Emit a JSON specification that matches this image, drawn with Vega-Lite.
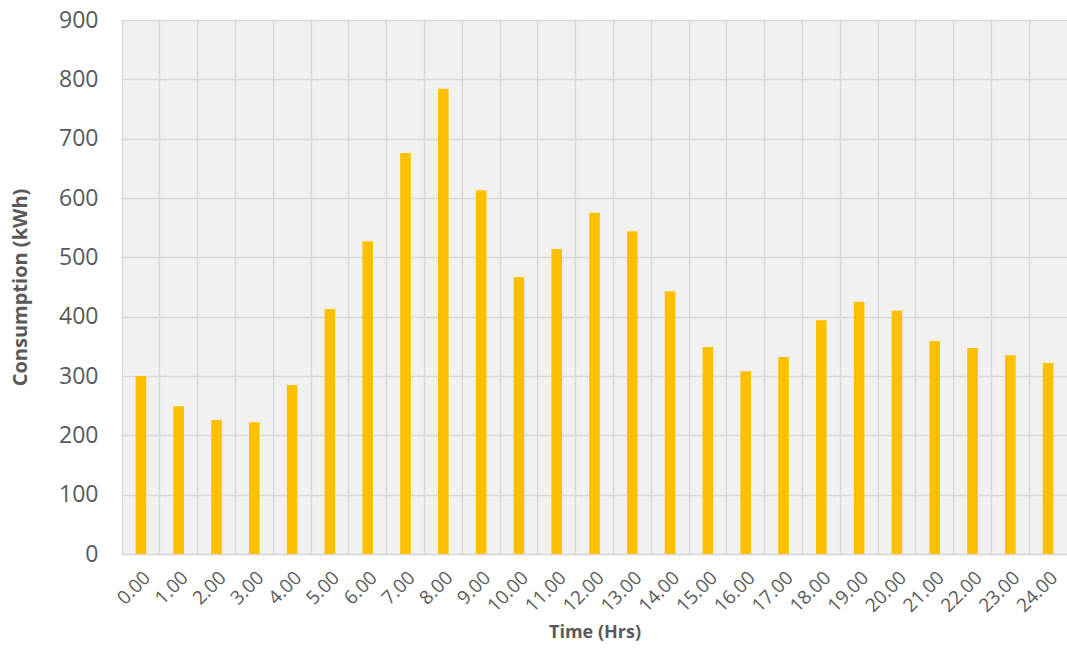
{
  "$schema": "https://vega.github.io/schema/vega-lite/v6.json",
  "width": 945,
  "height": 534,
  "autosize": "none",
  "padding": {"left": 122, "top": 20, "right": 0, "bottom": 94},
  "background": "white",
  "config": {
    "view": {"fill": "#f1f1f1", "stroke": null},
    "font": "Open Sans"
  },
  "data": {
    "values": [
      {"time": "0.00", "kwh": 300},
      {"time": "1.00", "kwh": 249},
      {"time": "2.00", "kwh": 226},
      {"time": "3.00", "kwh": 222},
      {"time": "4.00", "kwh": 285},
      {"time": "5.00", "kwh": 413},
      {"time": "6.00", "kwh": 527},
      {"time": "7.00", "kwh": 676},
      {"time": "8.00", "kwh": 784},
      {"time": "9.00", "kwh": 613},
      {"time": "10.00", "kwh": 467},
      {"time": "11.00", "kwh": 514},
      {"time": "12.00", "kwh": 575},
      {"time": "13.00", "kwh": 544},
      {"time": "14.00", "kwh": 443},
      {"time": "15.00", "kwh": 349},
      {"time": "16.00", "kwh": 308},
      {"time": "17.00", "kwh": 332},
      {"time": "18.00", "kwh": 394},
      {"time": "19.00", "kwh": 425},
      {"time": "20.00", "kwh": 410},
      {"time": "21.00", "kwh": 359},
      {"time": "22.00", "kwh": 347},
      {"time": "23.00", "kwh": 335},
      {"time": "24.00", "kwh": 322}
    ]
  },
  "layer": [
    {
      "mark": {"type": "bar", "opacity": 0},
      "encoding": {
        "x": {
          "field": "time", "type": "ordinal", "sort": null,
          "scale": {"paddingInner": 0, "paddingOuter": 0},
          "axis": {
            "orient": "top", "grid": true, "bandPosition": 0,
            "gridColor": "#d9d9d9", "gridWidth": 1.5,
            "labels": false, "ticks": false, "domain": false, "title": null
          }
        },
        "y": {
          "field": "kwh", "type": "quantitative",
          "scale": {"domain": [0, 900], "nice": false},
          "axis": {
            "values": [0, 100, 200, 300, 400, 500, 600, 700, 800, 900],
            "grid": true, "gridColor": "#d9d9d9", "gridWidth": 1.5,
            "ticks": false, "domain": false,
            "labelFontSize": 23, "labelColor": "#595959", "labelPadding": 24,
            "title": "Consumption (kWh)", "titleFontSize": 20, "titleFontWeight": "bold",
            "titleColor": "#595959", "titleX": -102, "titleBaseline": "middle"
          }
        }
      }
    },
    {
      "mark": {"type": "bar", "color": "#FFC000", "width": {"band": 0.28}},
      "encoding": {
        "x": {
          "field": "time", "type": "ordinal", "sort": null,
          "axis": {
            "orient": "bottom", "grid": false, "ticks": false,
            "domain": true, "domainColor": "#d9d9d9", "domainWidth": 1.5,
            "labelAngle": -45, "labelFontSize": 19, "labelColor": "#595959",
            "labelPadding": 14,
            "title": "Time (Hrs)", "titleFontSize": 18, "titleFontWeight": "bold",
            "titleColor": "#595959", "titleY": 78, "titleBaseline": "middle"
          }
        },
        "y": {"field": "kwh", "type": "quantitative"}
      }
    }
  ],
  "resolve": {"axis": {"x": "independent"}}
}
